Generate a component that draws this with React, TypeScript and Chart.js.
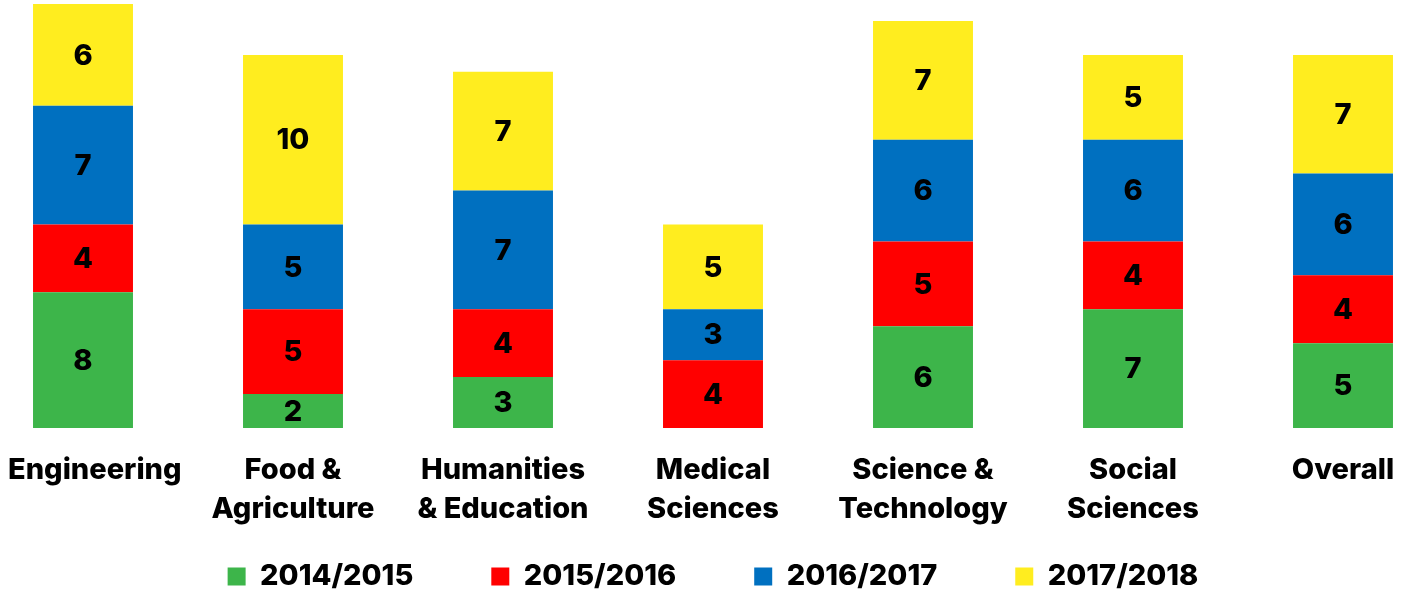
import { useEffect, useRef } from 'react';
import { Chart, registerables } from 'chart.js';

Chart.register(...registerables);

// Faculty names, one entry per x-axis label line
const categories: string[][] = [
  ['Engineering'],
  ['Food &', 'Agriculture'],
  ['Humanities', '& Education'],
  ['Medical', 'Sciences'],
  ['Science &', 'Technology'],
  ['Social', 'Sciences'],
  ['Overall'],
];

const seriesNames = ['2014/2015', '2015/2016', '2016/2017', '2017/2018'];

const values2014 = [8, 2, 3, null, 6, 7, 5];
const values2015 = [4, 5, 4, 4, 5, 4, 4];
const values2016 = [7, 5, 7, 3, 6, 6, 6];
const values2017 = [6, 10, 7, 5, 7, 5, 7];

const seriesColors = ['#3DB54A', '#FF0000', '#0070C0', '#FFED1F'];

const FAMILY = 'Inter, "Noto Sans", sans-serif';
const FONT_SIZE = 29;
const FONT_WEIGHT = 800;
const LEGEND_PAD = 78;

// visible window and the canvas placed inside it
const VIEW_W = 1405;
const VIEW_H = 595;
const CANVAS_LEFT = -22;
const CANVAS_W = 1470;
const CANVAS_H = 601;
const PLOT_BOTTOM = 428;
const LEGEND_H = FONT_SIZE + LEGEND_PAD + 10;
const X_AXIS_H = CANVAS_H - LEGEND_H - PLOT_BOTTOM;

const segmentLabels = {
  id: 'segmentLabels',
  afterDatasetsDraw(chart: any) {
    const ctx = chart.ctx;
    ctx.save();
    ctx.font = `${FONT_WEIGHT} ${FONT_SIZE}px ${FAMILY}`;
    ctx.fillStyle = '#000';
    ctx.textAlign = 'center';
    ctx.textBaseline = 'middle';
    chart.data.datasets.forEach((ds: any, di: number) => {
      const meta = chart.getDatasetMeta(di);
      meta.data.forEach((bar: any, i: number) => {
        const v = ds.data[i];
        if (v == null || v === 0) return;
        const { x, y, base } = bar.getProps(['x', 'y', 'base'], true);
        ctx.fillText(String(v), x, (y + base) / 2 + 1);
      });
    });
    ctx.restore();
  },
};

// category labels under the bars, kept inside the visible window
const categoryLabels = {
  id: 'categoryLabels',
  afterDraw(chart: any) {
    const ctx = chart.ctx;
    const xs = chart.scales.x;
    const bottom = chart.chartArea.bottom;
    const visLeft = -CANVAS_LEFT;
    const visRight = -CANVAS_LEFT + VIEW_W;
    ctx.save();
    ctx.font = `${FONT_WEIGHT} ${FONT_SIZE}px ${FAMILY}`;
    ctx.fillStyle = '#000';
    ctx.textAlign = 'center';
    ctx.textBaseline = 'alphabetic';
    categories.forEach((lines, i) => {
      const w = Math.max(...lines.map((l) => ctx.measureText(l).width));
      let cx = xs.getPixelForValue(i);
      cx = Math.max(cx, visLeft + 8 + w / 2);
      cx = Math.min(cx, visRight - 5 - w / 2);
      lines.forEach((line, j) => {
        ctx.fillText(line, cx, bottom + 51 + j * 38.5);
      });
    });
    ctx.restore();
  },
};

export default function App() {
  const canvasRef = useRef<HTMLCanvasElement | null>(null);

  useEffect(() => {
    if (!canvasRef.current) return;
    const seriesValues = [values2014, values2015, values2016, values2017];
    const chart = new Chart(canvasRef.current, {
      type: 'bar',
      data: {
        labels: categories.map((c) => c.join(' ')),
        datasets: seriesNames.map((name, k) => ({
          label: name,
          data: seriesValues[k],
          backgroundColor: seriesColors[k],
          borderWidth: 0,
          barPercentage: 0.476,
          categoryPercentage: 1,
        })),
      },
      options: {
        responsive: false,
        animation: false,
        layout: { padding: { top: 4, left: 0, right: 0, bottom: 0 } },
        scales: {
          x: {
            stacked: true,
            grid: { display: false },
            border: { display: false },
            ticks: { display: false },
            afterFit: (scale: any) => {
              scale.height = X_AXIS_H;
            },
          },
          y: {
            stacked: true,
            display: false,
            min: 0,
            max: 25,
          },
        },
        plugins: {
          tooltip: { enabled: false },
          legend: {
            position: 'bottom',
            labels: {
              boxWidth: 18,
              boxHeight: 18,
              padding: LEGEND_PAD,
              color: '#000',
              font: { family: FAMILY, size: FONT_SIZE, weight: FONT_WEIGHT },
            },
          },
        },
      },
      plugins: [segmentLabels, categoryLabels],
    });
    return () => chart.destroy();
  }, []);

  return (
    <div
      style={{
        position: 'fixed',
        left: 0,
        top: 0,
        width: VIEW_W,
        height: VIEW_H,
        overflow: 'hidden',
        background: '#fff',
      }}
    >
      <canvas
        ref={canvasRef}
        width={CANVAS_W}
        height={CANVAS_H}
        style={{ position: 'absolute', left: CANVAS_LEFT, top: 0, width: CANVAS_W, height: CANVAS_H }}
      />
    </div>
  );
}
